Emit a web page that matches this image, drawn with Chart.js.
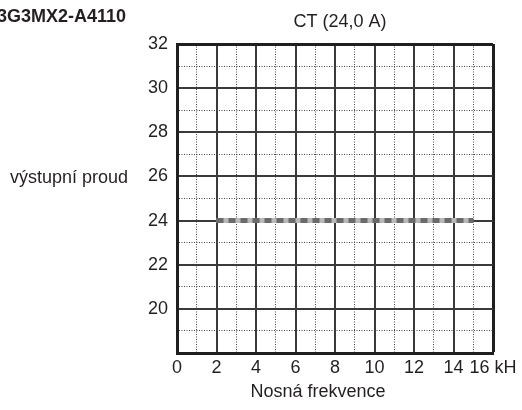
<!DOCTYPE html>
<html>
<head>
<meta charset="utf-8">
<script src="https://cdn.jsdelivr.net/npm/chart.js@4.4.1/dist/chart.umd.min.js"></script>
<style>
  html, body { margin: 0; padding: 0; background: #fff; }
  #wrap { width: 522px; height: 410px; position: relative; }
</style>
</head>
<body>
<div id="wrap"><canvas id="chart" width="522" height="410"></canvas></div>
<script>
// Carrier frequency (kHz) and rated output current (A)
const carrierFrequency = [2, 15];
const outputCurrent = [24.0, 24.0];

// Axis ranges and labelled ticks
const xLabelTicks = [0, 2, 4, 6, 8, 10, 12, 14, 16];
const yLabelTicks = [20, 22, 24, 26, 28, 30, 32];
const xRange = [0, 16];
const yRange = [18, 32];

// Texts
const modelName = '3G3MX2-A4110';
const chartTitle = 'CT (24,0 A)';
const yAxisTitle = 'výstupní proud';
const xAxisTitle = 'Nosná frekvence';
const xUnit = 'kH';

const FONT = "'Liberation Sans', Arial, sans-serif";
const FONT_SIZE = 18;
const TEXT_COLOR = '#231f20';

const isMajor = (v) => Math.abs(v % 2) < 1e-9;
const isEdge = (v, range) => v === range[0] || v === range[1];

function gridOptions(range) {
  return {
    drawTicks: false,
    color: (ctx) => {
      const v = ctx.tick ? ctx.tick.value : 0;
      if (isEdge(v, range)) return '#1f1f1f';
      return isMajor(v) ? '#3a3a3a' : '#444444';
    },
    lineWidth: (ctx) => {
      const v = ctx.tick ? ctx.tick.value : 0;
      if (v === range[1]) return 3;
      return isMajor(v) ? 2 : 1;
    }
  };
}

function borderOptions() {
  return {
    display: true,
    color: '#1f1f1f',
    width: 3,
    dash: (ctx) => (ctx.tick && !isMajor(ctx.tick.value)) ? [1, 1.5] : []
  };
}

// Draws the model name, the chart title and the axis titles
const textPlugin = {
  id: 'chartTexts',
  afterDraw(chart) {
    const ctx = chart.ctx;
    ctx.save();
    ctx.fillStyle = TEXT_COLOR;
    ctx.textBaseline = 'alphabetic';

    ctx.font = 'bold ' + FONT_SIZE + 'px ' + FONT;
    ctx.textAlign = 'left';
    ctx.fillText(modelName, -3, 22);

    ctx.font = FONT_SIZE + 'px ' + FONT;
    ctx.textAlign = 'center';
    ctx.fillText(chartTitle, 340, 27);

    ctx.textAlign = 'right';
    ctx.fillText(yAxisTitle, 128, 183);

    ctx.textAlign = 'center';
    ctx.fillText(xAxisTitle, 318, 397);
    ctx.restore();
  }
};

const points = carrierFrequency.map((f, i) => ({ x: f, y: outputCurrent[i] }));

new Chart(document.getElementById('chart'), {
  type: 'line',
  data: {
    datasets: [
      {
        // dark dashes of the current limit line (drawn on top)
        data: points,
        borderColor: '#6a6a6a',
        borderWidth: 5,
        borderDash: [7, 5],
        borderCapStyle: 'butt',
        pointRadius: 0,
        fill: false,
        tension: 0,
        order: 0
      },
      {
        // light underlay of the same line
        data: points,
        borderColor: '#b9b9b9',
        borderWidth: 5,
        borderCapStyle: 'butt',
        pointRadius: 0,
        fill: false,
        tension: 0,
        order: 1
      }
    ]
  },
  options: {
    responsive: false,
    animation: false,
    devicePixelRatio: 1,
    layout: { padding: { left: 0, right: 29, top: 44, bottom: 0 } },
    plugins: {
      legend: { display: false },
      tooltip: { enabled: false },
      chartTexts: {}
    },
    scales: {
      x: {
        type: 'linear',
        min: xRange[0],
        max: xRange[1],
        afterFit: (s) => { s.height = 57; },
        ticks: {
          stepSize: 1,
          autoSkip: false,
          maxRotation: 0,
          padding: 4,
          color: TEXT_COLOR,
          font: { family: FONT, size: FONT_SIZE },
          callback: (v) => {
            if (!xLabelTicks.includes(v)) return '';
            return v === xRange[1] ? v + ' ' + xUnit : String(v);
          }
        },
        grid: gridOptions(xRange),
        border: borderOptions()
      },
      y: {
        type: 'linear',
        min: yRange[0],
        max: yRange[1],
        afterFit: (s) => { s.width = 177; },
        ticks: {
          stepSize: 1,
          autoSkip: false,
          padding: 9,
          color: TEXT_COLOR,
          font: { family: FONT, size: FONT_SIZE },
          callback: (v) => yLabelTicks.includes(v) ? String(v) : ''
        },
        grid: gridOptions(yRange),
        border: borderOptions()
      }
    }
  },
  plugins: [textPlugin]
});
</script>
</body>
</html>
